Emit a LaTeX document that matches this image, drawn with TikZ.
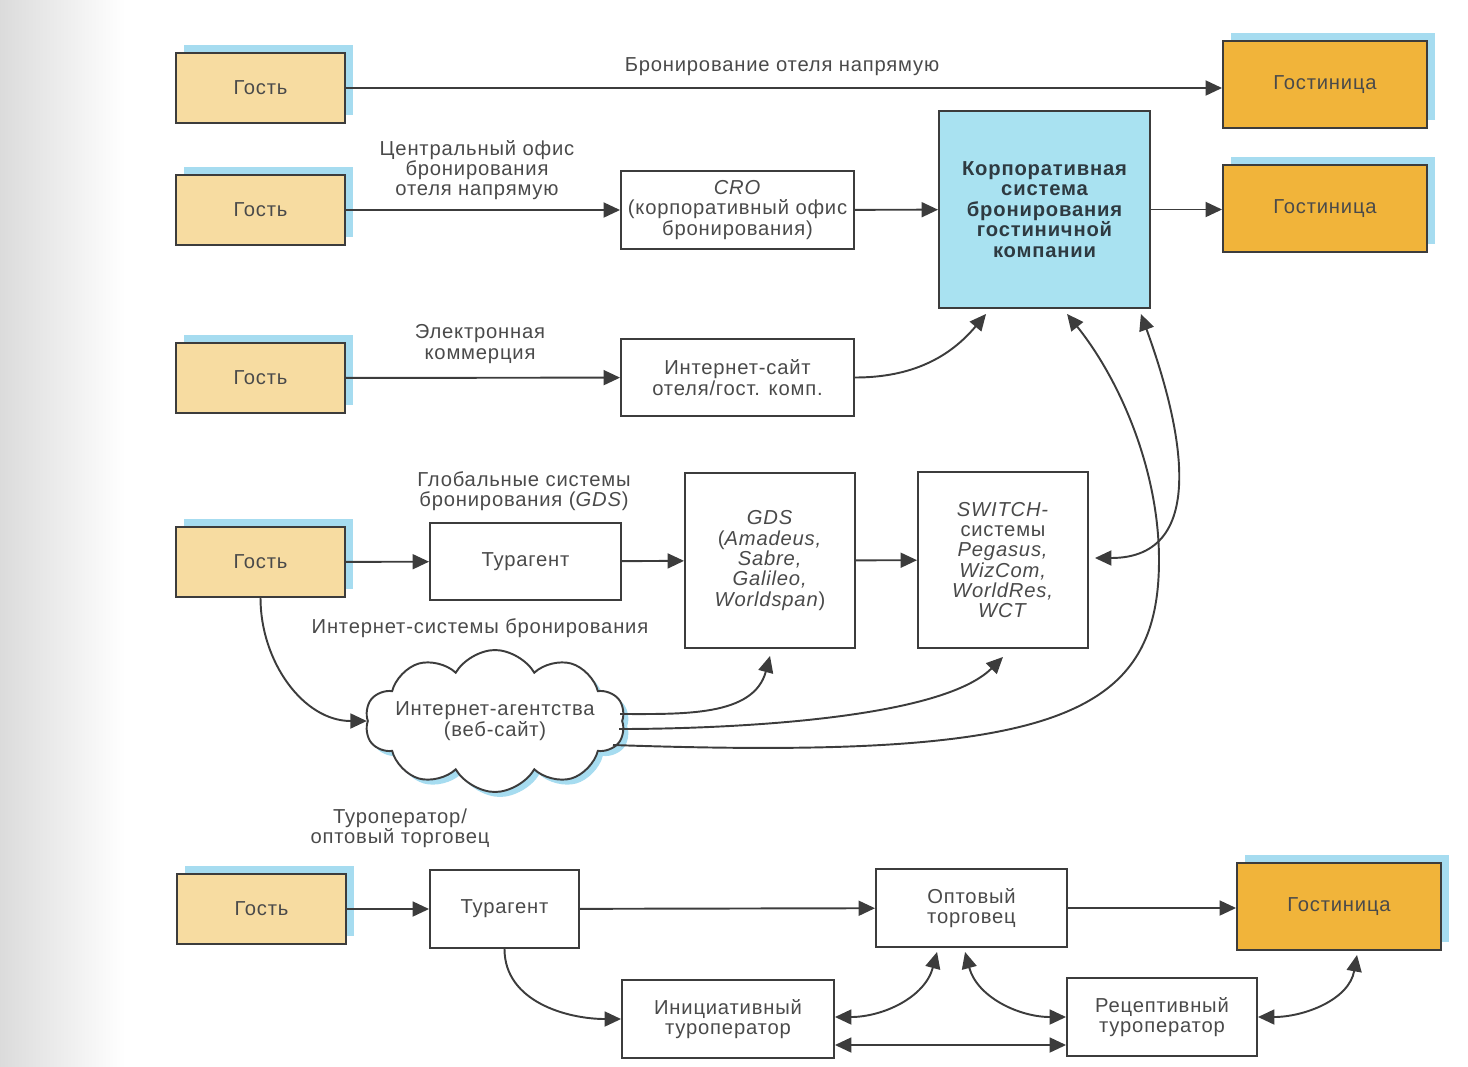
\documentclass[tikz,border=0pt]{standalone}
\usepackage{fontspec}
\setmainfont{Liberation Sans}[LetterSpace=4]
\usetikzlibrary{shapes}
\usetikzlibrary{calc}
\usetikzlibrary{positioning}
\usetikzlibrary{arrows.meta}
\usetikzlibrary{shadows}

\definecolor{lineGray}{HTML}{3C3C3C}
\definecolor{textGray}{HTML}{4A4A4A}
\definecolor{guestTan}{HTML}{F7DCA1}
\definecolor{hotelOrange}{HTML}{F1B43A}
\definecolor{crsBlue}{HTML}{A9E2F1}
\definecolor{shadowBlue}{HTML}{A6DCF0}
\definecolor{corpText}{HTML}{2E3A41}

\tikzset{
    chanbox/.style = {rectangle, draw = lineGray, fill = white, text = textGray, align = center, inner sep = 1pt, font = \fontsize{11.5}{11.6}\selectfont},
    bluedrop/.style = {drop shadow = {shadow xshift = 0.16cm, shadow yshift = 0.16cm, fill = shadowBlue, opacity = 1}},
    guest/.style = {chanbox, bluedrop, fill = guestTan, minimum width = 3.38cm, minimum height = 1.4cm},
    hotel/.style = {chanbox, bluedrop, fill = hotelOrange, minimum width = 4.08cm, minimum height = 1.74cm},
    chantext/.style = {text = textGray, align = center, inner sep = 0pt, font = \fontsize{11.5}{11.6}\selectfont},
}

\begin{document}
\begin{tikzpicture}[lineGray, line width = 1.1pt, x = 0.02cm, y = -0.02cm, >={Triangle[length = 0.33cm, width = 0.3cm]}]

    \useasboundingbox (0,0) rectangle (1468,1066);
    \shade[left color = black!14, right color = white] (0,0) rectangle (125,1066);

    %\draw[help lines, opacity = 0.1] (0,0) grid[step = 100] (1468,1066);

    % hotel directly
    \begin{scope}
        \node (G1) at (260.5, 88) [guest] {Гость};
        \node (H1) at (1325, 84.5) [hotel] {Гостиница};
        \node (note1) at (782, 67) [chantext] {Бронирование отеля напрямую};

        \draw[->] (G1.east) -- (G1.east -| H1.west);
    \end{scope}

    % central reservation office
    \begin{scope}
        \node (G2) at (260.5, 210) [guest] {Гость};
        \node (CRO) at (737.5, 210) [chanbox, minimum width = 4.66cm, minimum height = 1.56cm] {\textit{CRO}\\(корпоративный офис\\бронирования)};
        \node (CRS) at (1044.5, 209.5) [chanbox, fill = crsBlue, text = corpText, font = \fontsize{11.5}{11.6}\selectfont\bfseries, minimum width = 4.22cm, minimum height = 3.94cm] {Корпоративная\\система\\бронирования\\гостиничной\\компании};
        \node (H2) at (1325, 208.5) [hotel] {Гостиница};
        \node (note2) at (477, 170) [chantext] {Центральный офис\\бронирования\\отеля напрямую};

        \draw[->] (G2) -- (CRO);
        \draw[->] (CRO) -- (CRS);
        \draw[->] (CRS.east) -- (CRS.east -| H2.west);
    \end{scope}

    % e-commerce
    \begin{scope}
        \node (G3) at (260.5, 378) [guest] {Гость};
        \node (Site) at (737.5, 377.5) [chanbox, minimum width = 4.66cm, minimum height = 1.54cm] {Интернет-сайт\\отеля/гост. комп.};
        \node (note3) at (480, 344) [chantext] {Электронная\\коммерция};

        \draw[->] (G3) -- (Site);
        \draw[->] (Site.east) to[out = 0, in = -130] ($(CRS.south west)+(48,5)$);
    \end{scope}

    % GDS and switch
    \begin{scope}
        \node (G4) at (260.5, 562) [guest] {Гость};
        \node (TA1) at (525.5, 561.5) [chanbox, minimum width = 3.82cm, minimum height = 1.54cm] {Турагент};
        \node (GDS) at (770, 560.5) [chanbox, minimum width = 3.4cm, minimum height = 3.5cm] {\textit{GDS}\\(\textit{Amadeus,}\\\textit{Sabre,}\\\textit{Galileo,}\\\textit{Worldspan})};
        \node (SW) at (1003, 560) [chanbox, minimum width = 3.4cm, minimum height = 3.52cm] {\textit{SWITCH-}\\системы\\\textit{Pegasus,}\\\textit{WizCom,}\\\textit{WorldRes,}\\\textit{WCT}};
        \node (note4) at (524, 491) [chantext] {Глобальные системы\\бронирования (\textit{GDS})};

        \draw[->] (G4) -- (TA1);
        \draw[->] (TA1) -- (GDS);
        \draw[->] (GDS) -- (SW);
        \draw[<->] ($(CRS.south east)+(-10,5)$) to[out = -70, in = 0, looseness = 1.2] ($(SW.east)+(6,-2)$);
    \end{scope}

    % internet agencies
    \begin{scope}
        \node (Web) at (495, 721) [chanbox, cloud, cloud puffs = 10, cloud puff arc = 120, cloud ignores aspect, minimum width = 5.2cm, minimum height = 2.84cm, inner sep = 0pt, drop shadow = {shadow xshift = 0.1cm, shadow yshift = -0.1cm, fill = shadowBlue, opacity = 1}] {};
        \node (WebText) at (Web) [chantext] {Интернет-агентства\\(веб-сайт)};
        \node (note5) at (480, 628) [chantext] {Интернет-системы бронирования};

        \draw[->] (G4.south) to[out = -90, in = 180] (Web.west);
        \draw[->] ($(Web.center)+(125,-7)$) to[out = 0, in = -105] ($(GDS.south)+(0,7)$);
        \draw[->] ($(Web.center)+(124,8)$) to[out = 0, in = -135, looseness = 0.6] ($(SW.south)+(0,8)$);
        \draw[->] ($(Web.center)+(118,24)$) .. controls (1050,760) and (1159,720) .. (1159,560) .. controls (1159,470) and (1120,380) .. ($(CRS.south west)+(129,5)$);
    \end{scope}

    % tour operator / wholesaler
    \begin{scope}
        \node (G5) at (261.5, 909) [guest] {Гость};
        \node (TA2) at (504.5, 909) [chanbox, minimum width = 2.98cm, minimum height = 1.56cm] {Турагент};
        \node (WS) at (971.5, 908) [chanbox, minimum width = 3.82cm, minimum height = 1.56cm] {Оптовый\\торговец};
        \node (H3) at (1339, 906.5) [hotel] {Гостиница};
        \node (ITO) at (728, 1019) [chanbox, minimum width = 4.24cm, minimum height = 1.56cm] {Инициативный\\туроператор};
        \node (RTO) at (1162, 1017) [chanbox, minimum width = 3.8cm, minimum height = 1.56cm] {Рецептивный\\туроператор};
        \node (note6) at (400, 828) [chantext] {Туроператор/\\оптовый торговец};

        \draw[->] (G5) -- (TA2);
        \draw[->] (TA2) -- (WS);
        \draw[->] (WS.east) -- (WS.east -| H3.west);
        \draw[->] (TA2.south) to[out = -90, in = 180] (ITO.west);
        \draw[<->] ($(ITO.east)+(0,-2)$) to[out = 0, in = -105] ($(WS.south west)+(62,4)$);
        \draw[<->] ($(WS.south west)+(90,4)$) to[out = -75, in = 180] (RTO.west);
        \draw[<->] ($(ITO.east)+(0,26)$) -- ($(RTO.west)+(0,28)$);
        \draw[<->] (RTO.east) to[out = 0, in = -100] ($(H3.south)+(18,4)$);
    \end{scope}

\end{tikzpicture}
\end{document}
